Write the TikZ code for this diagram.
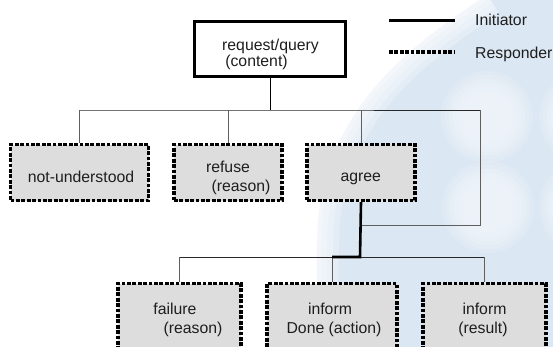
\documentclass[tikz,border=0pt]{standalone}
\usepackage{fontspec}
\setmainfont{Liberation Sans}
\definecolor{boxfill}{RGB}{221,221,221}
\definecolor{wash}{RGB}{219,231,243}
\definecolor{ink}{RGB}{30,30,30}
\definecolor{wirecol}{RGB}{95,95,95}
\definecolor{buscol}{RGB}{40,40,40}
\pgfdeclarelayer{washlayer}
\pgfdeclarelayer{wirelayer}
\pgfsetlayers{washlayer,wirelayer,main}
\tikzset{
  respbox/.style={draw=black, fill=boxfill, line width=3.2pt,
    dash pattern=on 3.8pt off 1.6pt, inner sep=0pt},
  initbox/.style={draw=black, fill=white, line width=3pt, inner sep=0pt},
  lbl/.style={anchor=base, inner sep=0pt, text=ink,
    font=\fontsize{15.8}{18}\selectfont},
  wire/.style={draw=wirecol, line width=1pt},
  hbus/.style={draw=buscol, line width=1pt},
  trunk/.style={draw=black, line width=0.9pt},
  initpath/.style={draw=black, line width=2.6pt},
  resppath/.style={draw=black, line width=3.2pt, dash pattern=on 3.8pt off 1.6pt},
}
\begin{document}
\begin{tikzpicture}[x=1pt, y=-1pt]
\useasboundingbox (0,0) rectangle (553,346);
\clip (0,0) rectangle (553,346);

% pale backdrop with soft edges
\begin{pgfonlayer}{washlayer}
  \fill[white] (0,0) rectangle (553,346);
  \fill[wash] (487,-5) .. controls (420,40) and (330,100) .. (318,220)
    .. controls (315,280) and (318,320) .. (318,352) -- (560,352) -- (560,-5) -- cycle;
  \foreach \w in {44,32,20,9}
    \draw[white, opacity=0.25, line width=\w pt] (487,-5) .. controls (420,40) and (330,100) .. (318,220)
      .. controls (315,280) and (318,320) .. (318,352);
  \foreach \cx/\cy in {487/117, 488/207, 585/117, 585/207}
    \foreach \r in {46,42,...,26}
      \fill[white, opacity=0.13] (\cx,\cy) circle (\r pt);
\end{pgfonlayer}

% message boxes
\node[initbox, minimum width=151pt, minimum height=55pt] (req) at (270,49) {};
\node[respbox, minimum width=138pt, minimum height=56pt] (nu) at (79.5,172.5) {};
\node[respbox, minimum width=108pt, minimum height=56pt] (ref) at (228,172.5) {};
\node[respbox, minimum width=108pt, minimum height=56pt] (agr) at (361,172.5) {};
\node[respbox, minimum width=123pt, minimum height=80pt] (fail) at (179.5,323.5) {};
\node[respbox, minimum width=130pt, minimum height=80pt] (infd) at (332,323.5) {};
\node[respbox, minimum width=123pt, minimum height=80pt] (infr) at (484.5,323.5) {};

% box texts
\node[lbl] (reqA) at (270.5,50) {request/query};
\node[lbl] (reqB) at (256.5,66.7) {(content)};
\node[lbl] (nuA) at (81,182.7) {not-understood};
\node[lbl] (refA) at (228,172) {refuse};
\node[lbl] (refB) at (241,191.5) {(reason)};
\node[lbl] (agrA) at (360.7,181.7) {agree};
\node[lbl] (failA) at (175,314) {failure};
\node[lbl] (failB) at (193,333) {(reason)};
\node[lbl] (infdA) at (330,314) {inform};
\node[lbl] (infdB) at (334,333) {Done (action)};
\node[lbl] (infrA) at (484.5,314) {inform};
\node[lbl] (infrB) at (483,333) {(result)};

% connectors
\coordinate (busA) at (270,110);
\coordinate (loopR) at (480,225);
\coordinate (loopL) at (360,225);
\coordinate (busB) at (360,257);
\begin{pgfonlayer}{wirelayer}
  \draw[trunk] (req.south) -- (busA);
  \draw[hbus] (nu.north |- busA) -- (busA) -- (busA -| loopR);
  \draw[wire] (busA -| loopR) -- (loopR) -- (loopL);
  \draw[wire] (nu.north) -- (nu.north |- busA);
  \draw[wire] (ref.north) -- (ref.north |- busA);
  \draw[wire] (agr.north) -- (agr.north |- busA);
  \draw[hbus] (busB -| fail.north) -- (busB -| infr.north);
  \draw[wire] (fail.north) -- (fail.north |- busB);
  \draw[wire] (infd.north) -- (infd.north |- busB);
  \draw[wire] (infr.north) -- (infr.north |- busB);
  \draw[initpath] (agr.south) -- (busB) -- (busB -| infd.north);
\end{pgfonlayer}

% key
\coordinate (keyA1) at (389,20);
\coordinate (keyA2) at (455,20);
\coordinate (keyB1) at (389,52);
\coordinate (keyB2) at (455,52);
\draw[initpath, line width=3pt] (keyA1) -- (keyA2);
\draw[resppath] (keyB1) -- (keyB2);
\node[lbl, anchor=base west] (keyAt) at (475,25) {Initiator};
\node[lbl, anchor=base west] (keyBt) at (475,58.3) {Responder};
\end{tikzpicture}
\end{document}
